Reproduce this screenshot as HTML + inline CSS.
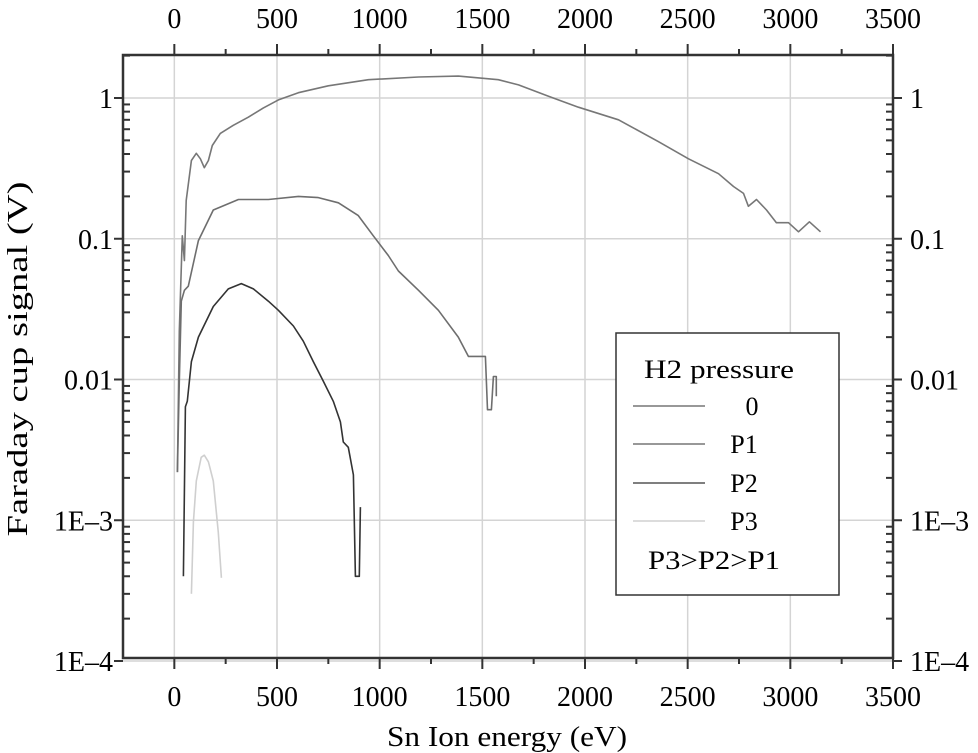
<!DOCTYPE html>
<html><head><meta charset="utf-8"><style>
body{margin:0;background:#fff}
svg{display:block;font-family:"Liberation Serif",serif}
</style></head><body>
<svg id="chart" width="978" height="753" xmlns="http://www.w3.org/2000/svg">
<g id="grid"></g>
<g id="series"></g>
<g id="axes"></g>
<text x="0" y="0" transform="translate(27,359) rotate(-90)" text-anchor="middle" font-size="29" textLength="355" lengthAdjust="spacingAndGlyphs">Faraday cup signal (V)</text>
<text x="507" y="746" text-anchor="middle" font-size="29" textLength="240" lengthAdjust="spacingAndGlyphs">Sn Ion energy (eV)</text>
<g>
<rect x="616" y="333" width="223" height="262" fill="#fff" stroke="#333" stroke-width="1.5"/>
<text x="644" y="378" font-size="26" textLength="150" lengthAdjust="spacingAndGlyphs">H2 pressure</text>
<line x1="633" y1="406" x2="705" y2="406" stroke="#777" stroke-width="1.5"/>
<text x="752" y="415" text-anchor="middle" font-size="26">0</text>
<line x1="633" y1="444" x2="705" y2="444" stroke="#777" stroke-width="1.5"/>
<text x="744" y="453" text-anchor="middle" font-size="26">P1</text>
<line x1="633" y1="483" x2="705" y2="483" stroke="#555" stroke-width="1.5"/>
<text x="744" y="492" text-anchor="middle" font-size="26">P2</text>
<line x1="633" y1="521" x2="705" y2="521" stroke="#d0d0d0" stroke-width="1.5"/>
<text x="744" y="530" text-anchor="middle" font-size="26">P3</text>
<text x="714" y="569" text-anchor="middle" font-size="26" textLength="132" lengthAdjust="spacingAndGlyphs">P3&gt;P2&gt;P1</text>
</g>
</svg>
<script>
const xTicks=[0,500,1000,1500,2000,2500,3000,3500];
const yTickVals=[1,0.1,0.01,0.001,0.0001];
const yTickLabels=["1","0.1","0.01","1E\u20133","1E\u20134"];
const e0=[15,24,39,49,58,83,107,127,146,166,185,224,287,360,434,507,604,750,945,1189,1383,1578,1676,1822,1968,2163,2357,2504,2650,2723,2772,2796,2835,2884,2932,2991,3040,3093,3147];
const v0=[0.0022,0.022,0.105,0.07,0.187,0.36,0.405,0.37,0.32,0.36,0.46,0.56,0.64,0.73,0.85,0.97,1.09,1.22,1.35,1.41,1.43,1.35,1.24,1.03,0.86,0.70,0.49,0.37,0.29,0.235,0.21,0.17,0.19,0.16,0.13,0.13,0.112,0.132,0.112];
const e1=[15,24,34,49,68,117,190,312,458,604,701,799,896,969,1042,1091,1189,1286,1383,1432,1515,1525,1544,1554,1568,1568];
const v1=[0.0022,0.0097,0.036,0.043,0.046,0.097,0.16,0.19,0.19,0.20,0.196,0.18,0.146,0.105,0.076,0.059,0.043,0.031,0.020,0.0146,0.0146,0.0061,0.0061,0.0105,0.0105,0.0076];
const e2=[44,54,63,83,117,190,263,326,385,458,507,580,628,677,726,774,809,823,847,872,882,901,906];
const v2=[0.0004,0.0064,0.007,0.0134,0.020,0.033,0.044,0.048,0.044,0.036,0.031,0.024,0.0187,0.0134,0.0097,0.007,0.005,0.0036,0.0033,0.0021,0.0004,0.0004,0.00124];
const e3=[83,93,107,131,146,166,190,214,229];
const v3=[0.0003,0.00097,0.0019,0.0028,0.0029,0.0026,0.0019,0.00082,0.00039];

const L=123,R=893,T=55,B=658;
const xMin=-250,xMax=3500;
function X(e){return L+(e-xMin)/(xMax-xMin)*(R-L);}
function Y(v){return 98-Math.log10(v)*140.75;}
const NS="http://www.w3.org/2000/svg";
function mk(tag,attrs,parent){const el=document.createElementNS(NS,tag);for(const k in attrs)el.setAttribute(k,attrs[k]);parent.appendChild(el);return el;}
const grid=document.getElementById('grid'),axes=document.getElementById('axes'),ser=document.getElementById('series');
xTicks.forEach(t=>{
  const x=X(t);
  const g=mk('line',{x1:x,y1:T,x2:x,y2:B,stroke:'#d4d4d4','stroke-width':1.5},grid);
  
  
  [[T,T-11],[B,B+11]].forEach(p=>{const tk=mk('line',{x1:x,y1:p[0],x2:x,y2:p[1],stroke:'#333','stroke-width':2},axes);
    
    });
  [[28,'top'],[706,'bottom']].forEach(p=>{const tx=mk('text',{x:x,y:p[0],'text-anchor':'middle','font-size':28},axes);tx.textContent=t;
    
    });
  if(t<3500){const xm=X(t+250);[[T,T-6],[B,B+6]].forEach(p=>{const tk=mk('line',{x1:xm,y1:p[0],x2:xm,y2:p[1],stroke:'#333','stroke-width':2},axes);
    
    });}
});
yTickVals.forEach((v,i)=>{
  const y=Y(v);
  const g=mk('line',{x1:L,y1:y,x2:R,y2:y,stroke:'#d4d4d4','stroke-width':1.5},grid);
  
  
  [[L,L-9],[R,R+9]].forEach(p=>{const tk=mk('line',{x1:p[0],y1:y,x2:p[1],y2:y,stroke:'#333','stroke-width':2},axes);
    
    });
  const tl=mk('text',{x:113,y:y+10,'text-anchor':'end','font-size':28},axes);tl.textContent=yTickLabels[i];
  
  
  const tr=mk('text',{x:910,y:y+10,'font-size':28},axes);tr.textContent=yTickLabels[i];
  
  
  if(i<4){for(let m=2;m<=9;m++){const ym=Y(v/10*m);
    [[L,L+7],[R,R-7]].forEach(p=>{const tk=mk('line',{x1:p[0],y1:ym,x2:p[1],y2:ym,stroke:'#333','stroke-width':2},axes);
      
      });}}
});
for(let m=2;m<=3;m++){const ym=Y(m);if(ym>T)[[L,L+7],[R,R-7]].forEach(p=>{const tk=mk('line',{x1:p[0],y1:ym,x2:p[1],y2:ym,stroke:'#333','stroke-width':2},axes);
  
  });}
const frame=mk('rect',{x:L,y:T,width:R-L,height:B-T,fill:'none',stroke:'#333','stroke-width':2.5},axes);


function line(es,vs,color,name){
  const d=es.map((e,i)=>(i?'L':'M')+X(e).toFixed(1)+','+Y(vs[i]).toFixed(1)).join(' ');
  const p=mk('path',{d:d,fill:'none',stroke:color,'stroke-width':1.6,'stroke-linejoin':'round'},ser);
  
  
}
line(e3,v3,'#cfcfcf','series-p3');
line(e0,v0,'#777','series-0');
line(e1,v1,'#6e6e6e','series-p1');
line(e2,v2,'#333','series-p2');
</script>
</body></html>
